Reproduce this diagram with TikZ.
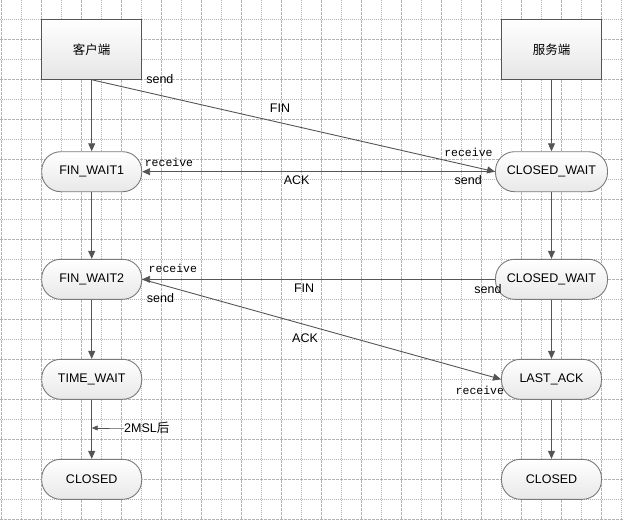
\documentclass[tikz,border=0pt]{standalone}
\usepackage{fontspec}
\setmainfont{Liberation Sans}
\newfontfamily\cjk{Noto Sans CJK SC}
\newfontfamily\mono{Liberation Mono}
\usetikzlibrary{arrows.meta}

\definecolor{linegray}{HTML}{555555}
\definecolor{gridgray}{HTML}{B4B4B4}
\definecolor{bordergray}{HTML}{7A7A7A}

\tikzset{
  gridmajor/.style={gridgray, line width=0.8pt, dash pattern=on 3pt off 1pt},
  gridminor/.style={gridgray, line width=0.8pt, dash pattern=on 1pt off 1pt},
  endpoint/.style={draw=linegray, line width=0.9pt, top color=white, bottom color=black!10,
    minimum width=100pt, minimum height=60pt, inner sep=0pt, font=\fontsize{12.5}{14}\cjk},
  state/.style={draw=bordergray, line width=0.9pt, rounded corners=19pt, top color=white,
    bottom color=black!9, minimum width=100pt, minimum height=40pt, inner sep=0pt,
    font=\fontsize{12.5}{14}\selectfont},
  widestate/.style={state, minimum width=112pt},
  flow/.style={draw=linegray, line width=0.9pt, -{Triangle[length=8pt,width=7pt]}},
  smallflow/.style={draw=linegray, line width=0.9pt, -{Triangle[length=6pt,width=5pt]}},
  lbl/.style={inner sep=0pt, font=\fontsize{12.5}{14}\selectfont},
  io/.style={inner sep=0pt, font=\fontsize{11.5}{13}\mono},
}

\begin{document}
\begin{tikzpicture}[x=1pt,y=-1pt]
    \useasboundingbox (0,0) rectangle (624,520);

    \foreach \k in {0,...,15} {
      \draw[gridmajor] ({1.7+40*\k},0) -- ++(0,520);
      \draw[gridminor] ({21.7+40*\k},0) -- ++(0,520);
    }
    \foreach \k in {0,...,12} {
      \draw[gridminor] (0,{19.3+40*\k}) -- ++(624,0);
      \draw[gridmajor] (0,{39.3+40*\k}) -- ++(624,0);
    }

    \node[endpoint] (client) at (91.7,49.3) {客户端};
    \node[endpoint] (server) at (551.5,49.3) {服务端};

    \node[state] (fw1) at (91.7,171.7) {FIN\_WAIT1};
    \node[widestate] (cw1) at (551.5,171.7) {CLOSED\_WAIT};
    \node[state] (fw2) at (91.7,279.3) {FIN\_WAIT2};
    \node[widestate] (cw2) at (551.5,279.3) {CLOSED\_WAIT};
    \node[state] (tw) at (91.7,379.3) {TIME\_WAIT};
    \node[state] (la) at (551.5,379.3) {LAST\_ACK};
    \node[state] (cl1) at (91.7,479.3) {CLOSED};
    \node[state] (cl2) at (551.5,479.3) {CLOSED};

    \draw[flow] (client) -- (fw1);
    \draw[flow] (fw1) -- (fw2);
    \draw[flow] (fw2) -- (tw);
    \draw[flow] (tw) -- (cl1);
    \draw[flow] (server) -- (cw1);
    \draw[flow] (cw1) -- (cw2);
    \draw[flow] (cw2) -- (la);
    \draw[flow] (la) -- (cl2);

    \draw[flow] (client.south) -- (cw1.west)
      node[lbl, pos=.169, yshift=16.5pt] (finsend) {send}
      node[lbl, pos=.467, yshift=14.4pt] (fin) {FIN}
      node[io, pos=.934, yshift=13.6pt] (finrecv) {receive};
    \draw[flow] (cw1.west) -- (fw1.east)
      node[lbl, pos=.076, yshift=-8.8pt] (acksend) {send}
      node[lbl, pos=.562, yshift=-8.3pt] (ack) {ACK}
      node[io, pos=.924, yshift=9.7pt] (ackrecv) {receive};
    \draw[flow] (cw2.west) -- (fw2.east)
      node[lbl, pos=.02, yshift=-9.7pt] (fintwosend) {send}
      node[lbl, pos=.541, yshift=-8.7pt] (fintwo) {FIN}
      node[io, pos=.913, yshift=11.3pt] (fintworecv) {receive};
    \draw[flow] (fw2.east) -- (la.west)
      node[lbl, pos=.051, yshift=-13.6pt] (acktwosend) {send}
      node[lbl, pos=.454, yshift=-13.3pt] (acktwo) {ACK}
      node[io, pos=.941, yshift=-16.6pt] (acktworecv) {receive};

    \node[lbl, anchor=west] (msl) at (124,428) {2MSL{\cjk 后}};
    \coordinate (mslend) at (tw.south |- msl.west);
    \draw[smallflow] (msl.west) -- ++(-2.5,0) -- (mslend);
\end{tikzpicture}
\end{document}
